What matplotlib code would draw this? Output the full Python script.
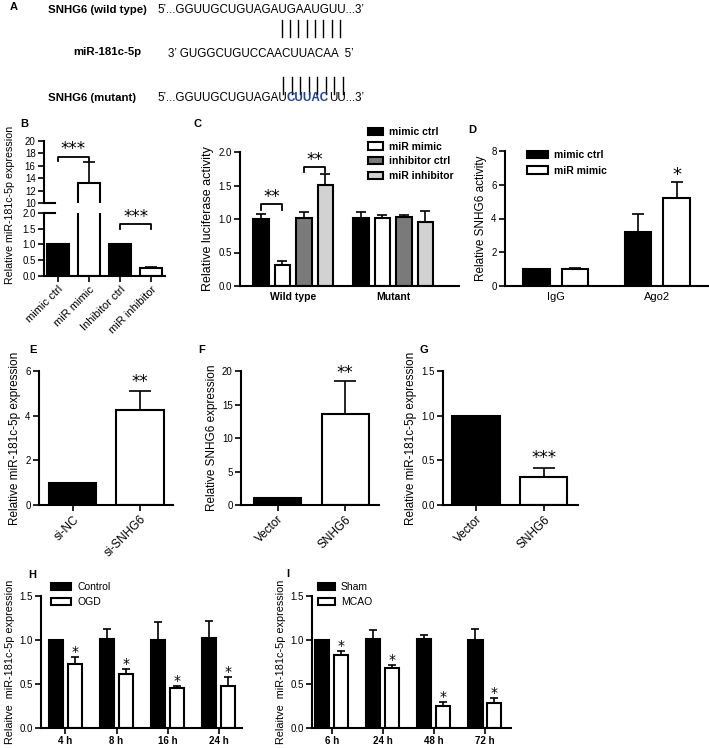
"""Multi-panel figure: SNHG6 / miR-181c-5p binding and expression."""
import matplotlib.pyplot as plt
from matplotlib.patches import Patch
from matplotlib.lines import Line2D
import numpy as np

plt.rcParams['font.family'] = ['Liberation Sans', 'DejaVu Sans']

W, H = 709, 748

# ---------------- data ----------------
# A: sequences
wt_label = 'SNHG6 (wild type)'
wt_seq = "5’...GGUUGCUGUAGAUGAAUGUU...3’"
mir_label = 'miR-181c-5p'
mir_seq = "3’ GUGGCUGUCCAACUUACAA  5’"
mut_label = 'SNHG6 (mutant)'
mut_seq = ["5’...GGUUGCUGUAGAU", "CUUAC", "UU...3’"]
n_pairs = 8

# B
b_labels = ['mimic ctrl', 'miR mimic', 'Inhibitor ctrl', 'miR inhibitor']
b_vals = [1.0, 13.3, 1.0, 0.25]
b_err = [0, 3.3, 0, 0.05]
b_colors = ['black', 'white', 'black', 'white']

# C
c_groups = ['Wild type', 'Mutant']
c_series = ['mimic ctrl', 'miR mimic', 'inhibitor ctrl', 'miR inhibitor']
c_mimic_ctrl = [1.0, 1.02]
c_mir_mimic = [0.31, 1.02]
c_inh_ctrl = [1.02, 1.03]
c_mir_inh = [1.51, 0.96]
c_mimic_ctrl_err = [0.08, 0.09]
c_mir_mimic_err = [0.06, 0.04]
c_inh_ctrl_err = [0.08, 0.035]
c_mir_inh_err = [0.16, 0.16]
c_colors = ['black', 'white', '#7a7a7a', '#d2d2d2']

# D
d_groups = ['IgG', 'Ago2']
d_mimic_ctrl = [1.0, 3.2]
d_mimic_ctrl_err = [0, 1.06]
d_mir_mimic = [1.03, 5.2]
d_mir_mimic_err = [0.06, 0.98]

# E, F, G
e_labels = ['si-NC', 'si-SNHG6']
e_vals = [1.0, 4.26]
e_err = [0, 0.84]
f_labels = ['Vector', 'SNHG6']
f_vals = [1.0, 13.6]
f_err = [0, 4.9]
g_labels = ['Vector', 'SNHG6']
g_vals = [1.0, 0.315]
g_err = [0, 0.095]

# H
h_times = ['4 h', '8 h', '16 h', '24 h']
h_control = [1.0, 1.01, 1.0, 1.02]
h_control_err = [0, 0.12, 0.2, 0.2]
h_ogd = [0.73, 0.61, 0.45, 0.48]
h_ogd_err = [0.08, 0.06, 0.03, 0.10]

# I
i_times = ['6 h', '24 h', '48 h', '72 h']
i_sham = [1.0, 1.01, 1.01, 1.0]
i_sham_err = [0, 0.10, 0.05, 0.13]
i_mcao = [0.83, 0.68, 0.255, 0.28]
i_mcao_err = [0.05, 0.04, 0.045, 0.06]

TICK_FS = 7
LAB_FS = 8.5

fig = plt.figure(figsize=(W / 100, H / 100), dpi=100)


def add_ax(l, t, r, b):
    return fig.add_axes([l / W, 1 - b / H, (r - l) / W, (b - t) / H])


def style(ax, bottom=True):
    for s in ['top', 'right']:
        ax.spines[s].set_visible(False)
    ax.spines['left'].set_linewidth(1.5)
    ax.spines['bottom'].set_linewidth(1.5)
    if not bottom:
        ax.spines['bottom'].set_visible(False)
    ax.tick_params(direction='out', width=1.2, length=4, labelsize=TICK_FS, pad=2)


def bars(ax, x, vals, errs, color, width, cap=4):
    x = np.asarray(x, dtype=float)
    vals = np.asarray(vals, dtype=float)
    errs = np.asarray(errs, dtype=float)
    ax.bar(x, vals, width, color=color, edgecolor='black', linewidth=1.5, zorder=2)
    m = errs > 0
    if m.any():
        ax.errorbar(x[m], vals[m], yerr=[np.zeros(m.sum()), errs[m]], fmt='none',
                    ecolor='black', elinewidth=1.2, capsize=cap, capthick=1.2, zorder=1)


def stars(ax, x, y, s, fs=12):
    ax.text(x, y, s, ha='center', va='baseline', fontsize=fs, family='DejaVu Sans')


def bracket(ax, x1, x2, y, h, s, fs=12, sy=None):
    ax.plot([x1, x1, x2, x2], [y - h, y, y, y - h], color='black', lw=1.3, clip_on=False)
    stars(ax, (x1 + x2) / 2, y if sy is None else sy, s, fs)


def panel_label(s, px, py):
    fig.text(px / W, 1 - py / H, s, fontsize=8, fontweight='bold', ha='left', va='center')


def legend(ax, names, colors, px, py, hl, spacing, bold):
    handles = [Patch(facecolor=c, edgecolor='black', linewidth=1.5) for c in colors]
    ax.legend(handles, names, loc='upper left', bbox_to_anchor=(px / W, 1 - py / H),
              bbox_transform=fig.transFigure, frameon=False, borderpad=0, borderaxespad=0,
              handlelength=hl, handleheight=0.7, handletextpad=0.6, labelspacing=spacing,
              prop={'size': 7.5, 'weight': 'bold' if bold else 'normal'})


# ---------------- A ----------------
panel_label('A', 10, 7)
seq_fs = 8.4
name_fs = 8.2
fig.text(48 / W, 1 - 10 / H, wt_label, fontsize=name_fs, fontweight='bold', va='center')
fig.text(157 / W, 1 - 10 / H, wt_seq, fontsize=seq_fs, va='center')
fig.text(73 / W, 1 - 52 / H, mir_label, fontsize=name_fs, fontweight='bold', va='center')
fig.text(168 / W, 1 - 54 / H, mir_seq, fontsize=seq_fs, va='center')
fig.text(48 / W, 1 - 98 / H, mut_label, fontsize=name_fs, fontweight='bold', va='center')
r = fig.canvas.get_renderer()
xpos = 157
for k, piece in enumerate(mut_seq):
    t = fig.text(xpos / W, 1 - 98 / H, piece, fontsize=seq_fs, va='center',
                 color='#1f3f9f' if k == 1 else 'black',
                 fontweight='bold' if k == 1 else 'normal')
    xpos = t.get_window_extent(r).x1 * W / fig.bbox.width
for k in range(n_pairs):
    x1 = 281.7 + k * 8.33
    x2 = 283.3 + k * 8.5
    fig.add_artist(Line2D([x1 / W] * 2, [1 - 20 / H, 1 - 37 / H], color='black', lw=1))
    fig.add_artist(Line2D([x2 / W] * 2, [1 - 77 / H, 1 - 94 / H], color='black', lw=1))

# ---------------- B ----------------
panel_label('B', 20, 124)
bu = add_ax(44, 141, 165, 203)
bl = add_ax(44, 213, 165, 276)
xb = np.arange(len(b_labels))
for ax in (bu, bl):
    bars(ax, xb, b_vals, b_err, b_colors, 0.72)
    ax.set_xlim(-0.45, 3.45)
style(bu, bottom=False)
style(bl)
bu.set_ylim(10, 20)
bu.set_yticks(np.arange(10, 21, 2))
bu.set_xticks([])
bl.set_ylim(0, 2)
bl.set_yticks(np.arange(0, 2.01, 0.5))
bl.set_yticklabels(['0.0', '0.5', '1.0', '1.5', '2.0'])
bl.set_xticks(xb)
bl.set_xticklabels(b_labels, rotation=45, ha='right', rotation_mode='anchor', fontsize=8)
bu.plot([0, 0.09], [0, 0], transform=bu.transAxes, color='black', lw=1.5, clip_on=False)
bl.plot([0, 0.09], [1, 1], transform=bl.transAxes, color='black', lw=1.5, clip_on=False)
bracket(bu, 0, 1, 17.4, 0.6, '***', sy=17.9)
bracket(bl, 2, 3, 1.65, 0.15, '***', sy=1.72)
fig.text(10 / W, 1 - 205 / H, 'Relative miR-181c-5p expression', rotation=90,
         fontsize=7.7, ha='center', va='center')

# ---------------- C ----------------
panel_label('C', 193, 124)
ac = add_ax(240, 152, 459, 286)
style(ac)
xc = np.arange(len(c_groups))
off = np.array([-1.5, -0.5, 0.5, 1.5]) * 0.215
c_all = [c_mimic_ctrl, c_mir_mimic, c_inh_ctrl, c_mir_inh]
c_all_err = [c_mimic_ctrl_err, c_mir_mimic_err, c_inh_ctrl_err, c_mir_inh_err]
for k in range(4):
    bars(ac, xc + off[k], c_all[k], c_all_err[k], c_colors[k], 0.155, cap=3.5)
ac.set_xlim(-0.53, 1.66)
ac.set_ylim(0, 2)
ac.set_yticks(np.arange(0, 2.01, 0.5))
ac.set_yticklabels(['0.0', '0.5', '1.0', '1.5', '2.0'])
ac.set_xticks(xc)
ac.set_xticklabels(c_groups, fontweight='bold', fontsize=7.5)
ac.tick_params(axis='x', length=0, pad=4)
ac.set_ylabel('Relative luciferase activity', fontsize=9, labelpad=3)
bracket(ac, off[0], off[1], 1.22, 0.08, '**', sy=1.26)
bracket(ac, off[2], off[3], 1.77, 0.07, '**', sy=1.81)
legend(ac, c_series, c_colors, 368, 127, 1.4, 0.45, True)

# ---------------- D ----------------
panel_label('D', 468, 130)
ad = add_ax(505, 151, 708, 286)
style(ad)
xd = np.arange(len(d_groups))
bars(ad, xd - 0.19, d_mimic_ctrl, d_mimic_ctrl_err, 'black', 0.265)
bars(ad, xd + 0.19, d_mir_mimic, d_mir_mimic_err, 'white', 0.265)
ad.set_xlim(-0.5, 1.5)
ad.set_ylim(0, 8)
ad.set_yticks(np.arange(0, 9, 2))
ad.set_xticks(xd)
ad.set_xticklabels(d_groups, fontsize=8)
ad.tick_params(axis='x', length=0, pad=4)
ad.set_ylabel('Relative SNHG6 activity', fontsize=LAB_FS, labelpad=3)
stars(ad, 1.19, 6.3, '*', 13)
legend(ad, ['mimic ctrl', 'miR mimic'], ['black', 'white'], 527, 150, 2.0, 0.55, True)


# ---------------- E, F, G ----------------
def simple(ax, labels, vals, errs, ylim, yticks, yticklabels, ylabel, star, sy, xlim):
    style(ax)
    x = np.arange(len(labels))
    bars(ax, x, vals, errs, ['black', 'white'], 0.7, cap=8)
    ax.set_xlim(*xlim)
    ax.set_ylim(*ylim)
    ax.set_yticks(yticks)
    ax.set_yticklabels(yticklabels)
    ax.set_xticks(x)
    ax.set_xticklabels(labels, rotation=45, ha='right', rotation_mode='anchor', fontsize=8.5)
    ax.set_ylabel(ylabel, fontsize=LAB_FS, labelpad=3)
    stars(ax, 1, sy, star)


panel_label('E', 29, 350)
ae = add_ax(39, 371, 173, 505)
simple(ae, e_labels, e_vals, e_err, (0, 6), [0, 2, 4, 6], ['0', '2', '4', '6'],
       'Relative miR-181c-5p expression', '**', 5.3, (-0.5, 1.49))

panel_label('F', 198, 350)
af = add_ax(241, 371, 379, 505)
simple(af, f_labels, f_vals, f_err, (0, 20), [0, 5, 10, 15, 20], ['0', '5', '10', '15', '20'],
       'Relative SNHG6 expression', '**', 19.0, (-0.54, 1.5))

panel_label('G', 420, 350)
ag = add_ax(443, 371, 578, 505)
simple(ag, g_labels, g_vals, g_err, (0, 1.5), [0, 0.5, 1.0, 1.5], ['0.0', '0.5', '1.0', '1.5'],
       'Relative miR-181c-5p expression', '***', 0.47, (-0.49, 1.51))


# ---------------- H, I ----------------
def timecourse(ax, times, ctrl, ctrl_err, trt, trt_err, xlim):
    style(ax)
    x = np.arange(len(times))
    bars(ax, x - 0.186, ctrl, ctrl_err, 'black', 0.275, cap=3)
    bars(ax, x + 0.186, trt, trt_err, 'white', 0.275, cap=3)
    ax.set_xlim(*xlim)
    ax.set_ylim(0, 1.5)
    ax.set_yticks([0, 0.5, 1.0, 1.5])
    ax.set_yticklabels(['0.0', '0.5', '1.0', '1.5'])
    ax.set_xticks(x)
    ax.set_xticklabels(times, fontweight='bold', fontsize=7)
    ax.set_ylabel('Relaitve  miR-181c-5p expression', fontsize=7.8, labelpad=3)
    for k in range(len(times)):
        stars(ax, x[k] + 0.186, trt[k] + trt_err[k] + 0.01, '*', 10)


panel_label('H', 28, 575)
ah = add_ax(41, 596, 242, 728)
timecourse(ah, h_times, h_control, h_control_err, h_ogd, h_ogd_err, (-0.48, 3.46))
legend(ah, ['Control', 'OGD'], ['black', 'white'], 51, 582, 1.9, 0.5, False)

panel_label('I', 286, 574)
ai = add_ax(312, 596, 511, 728)
timecourse(ai, i_times, i_sham, i_sham_err, i_mcao, i_mcao_err, (-0.39, 3.51))
legend(ai, ['Sham', 'MCAO'], ['black', 'white'], 318, 582, 1.6, 0.5, False)

plt.savefig('out.png', dpi=100)
plt.close()
